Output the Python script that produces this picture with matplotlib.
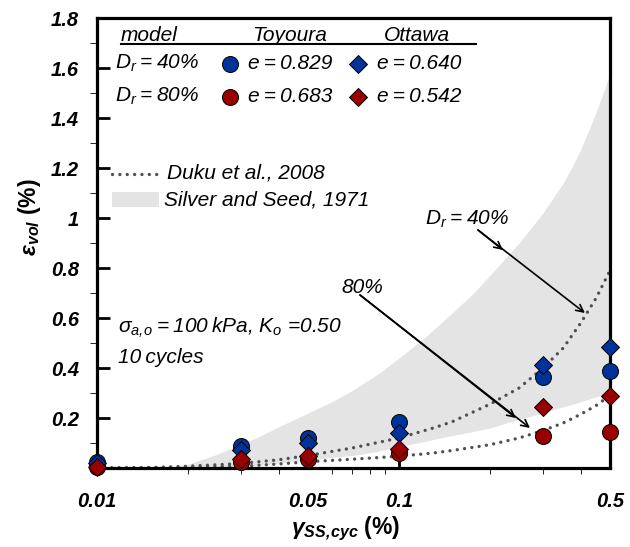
import matplotlib
matplotlib.use('Agg')
import matplotlib.pyplot as plt
from matplotlib.ticker import FixedLocator, FixedFormatter, NullFormatter
from matplotlib.patches import Rectangle

plt.rcParams['font.family'] = ['Liberation Sans', 'DejaVu Sans']
plt.rcParams['mathtext.fontset'] = 'custom'
plt.rcParams['mathtext.rm'] = 'Liberation Sans:italic'
plt.rcParams['mathtext.it'] = 'Liberation Sans:italic'
plt.rcParams['mathtext.bf'] = 'Liberation Sans:italic:bold'

# shear strain amplitude (%)
gamma = [0.01, 0.03, 0.05, 0.1, 0.3, 0.5]
# volumetric strain (%) from the model
toyoura_dr40 = [0.025, 0.088, 0.12, 0.184, 0.365, 0.39]
ottawa_dr40 = [0.02, 0.072, 0.10, 0.14, 0.412, 0.485]
toyoura_dr80 = [0.003, 0.025, 0.036, 0.06, 0.13, 0.145]
ottawa_dr80 = [0.003, 0.036, 0.048, 0.076, 0.245, 0.29]

# Duku et al., 2008 curves
duku_x = [0.01, 0.015, 0.02, 0.03, 0.04, 0.05, 0.07, 0.1, 0.13, 0.15, 0.2, 0.25, 0.3,
          0.35, 0.4, 0.45, 0.5]
duku_dr40 = [0.0, 0.002, 0.007, 0.018, 0.033, 0.05, 0.08, 0.12, 0.16, 0.185, 0.255, 0.32,
             0.40, 0.48, 0.58, 0.68, 0.79]
duku_dr80 = [0.0, 0.0, 0.002, 0.007, 0.016, 0.025, 0.035, 0.047, 0.06, 0.07, 0.093, 0.12,
             0.15, 0.18, 0.215, 0.25, 0.29]

# Silver and Seed, 1971 band
band_x = [0.015, 0.017, 0.02, 0.025, 0.03, 0.035, 0.04, 0.05, 0.06, 0.07, 0.085, 0.1,
          0.12, 0.15, 0.175, 0.2, 0.25, 0.3, 0.35, 0.375, 0.4, 0.425, 0.45, 0.475, 0.5]
band_hi = [0, 0, 0.015, 0.055, 0.095, 0.13, 0.165, 0.22, 0.265, 0.31, 0.375, 0.44,
           0.515, 0.62, 0.695, 0.77, 0.90, 1.02, 1.14, 1.205, 1.275, 1.35, 1.425, 1.50, 1.58]
band_lo = [0, 0, 0, 0, 0.005, 0.012, 0.02, 0.032, 0.042, 0.05, 0.066, 0.085,
           0.105, 0.13, 0.145, 0.16, 0.195, 0.22, 0.245, 0.255, 0.265, 0.275, 0.285, 0.293, 0.30]

xticks = [0.01, 0.05, 0.1, 0.5]
xticklabels = ['0.01', '0.05', '0.1', '0.5']
xminor = [0.02, 0.03, 0.04, 0.06, 0.07, 0.08, 0.09, 0.2, 0.3, 0.4]
yticks = [0.2, 0.4, 0.6, 0.8, 1.0, 1.2, 1.4, 1.6, 1.8]
yticklabels = ['0.2', '0.4', '0.6', '0.8', '1', '1.2', '1.4', '1.6', '1.8']
yminor = [0.1, 0.3, 0.5, 0.7, 0.9, 1.1, 1.3, 1.5, 1.7]

blue = '#003399'
red = '#990000'
grey = '#e4e4e4'
dotc = '#505050'
dots = (0, (0.01, 2.2))

fig = plt.figure(figsize=(6.3, 5.47), dpi=100)
ax = fig.add_axes([97 / 630, 79 / 547, 513 / 630, 450 / 547])

ax.fill_between(band_x, band_lo, band_hi, color=grey, lw=0, zorder=1)
ax.plot(duku_x, duku_dr40, color=dotc, lw=2.4, ls=dots, dash_capstyle='round', zorder=2)
ax.plot(duku_x, duku_dr80, color=dotc, lw=2.4, ls=dots, dash_capstyle='round', zorder=2)

mk = dict(ls='none', mec='black', mew=0.7, clip_on=False)
ax.plot(gamma, toyoura_dr40, 'o', ms=11.5, mfc=blue, zorder=5, **mk)
ax.plot(gamma, toyoura_dr80, 'o', ms=11.5, mfc=red, zorder=5, **mk)
ax.plot(gamma, ottawa_dr40, 'D', ms=9.2, mfc=blue, zorder=6, **mk)
ax.plot(gamma, ottawa_dr80, 'D', ms=9.2, mfc=red, zorder=6, **mk)

ax.set_xscale('log')
ax.set_xlim(0.01, 0.5)
ax.set_ylim(0, 1.8)
ax.xaxis.set_major_locator(FixedLocator(xticks))
ax.xaxis.set_major_formatter(FixedFormatter(xticklabels))
ax.xaxis.set_minor_locator(FixedLocator(xminor))
ax.xaxis.set_minor_formatter(NullFormatter())
ax.yaxis.set_major_locator(FixedLocator(yticks))
ax.yaxis.set_major_formatter(FixedFormatter(yticklabels))
ax.yaxis.set_minor_locator(FixedLocator(yminor))

for s in ax.spines.values():
    s.set_linewidth(2.3)
ax.tick_params(direction='in', width=2, top=False, right=False)
ax.tick_params(axis='x', which='major', length=5, pad=17)
ax.tick_params(axis='x', which='minor', length=4.5)
ax.tick_params(axis='y', which='major', length=9.5, pad=13)
ax.tick_params(axis='y', which='minor', length=5)
for lab in ax.get_xticklabels() + ax.get_yticklabels():
    lab.set_fontsize(14.5)
    lab.set_fontweight('bold')
    lab.set_fontstyle('italic')

ax.set_xlabel(r'$\mathbf{\gamma_{SS,\!cyc}}$ (%)', fontsize=16.5, fontweight='bold')
ax.set_ylabel(r'$\mathbf{\varepsilon_{vol}}$ (%)', fontsize=16.5, fontweight='bold')
ax.xaxis.set_label_coords(0.485, -0.104)
ax.yaxis.set_label_coords(-0.105, 0.558)

# legend table
tk = dict(transform=ax.transAxes, fontsize=15, fontstyle='italic', va='baseline')
ax.text(0.047, 0.949, 'model', **tk)
ax.text(0.376, 0.949, 'Toyoura', ha='center', **tk)
ax.text(0.624, 0.949, 'Ottawa', ha='center', **tk)
ax.plot([0.047, 0.739], [0.943, 0.943], transform=ax.transAxes, color='black', lw=1.5, clip_on=False)
ts = '\u2009=\u2009'
ax.text(0.035, 0.8867, '$D_r$' + ts + '40%', **tk)
ax.text(0.035, 0.8144, '$D_r$' + ts + '80%', **tk)
ax.text(0.294, 0.8867, 'e' + ts + '0.829', **tk)
ax.text(0.294, 0.8144, 'e' + ts + '0.683', **tk)
ax.text(0.546, 0.8867, 'e' + ts + '0.640', **tk)
ax.text(0.546, 0.8144, 'e' + ts + '0.542', **tk)
lk = dict(transform=ax.transAxes, ls='none', mec='black', mew=0.7, clip_on=False)
ax.plot([0.259], [0.8978], 'o', ms=11.5, mfc=blue, **lk)
ax.plot([0.259], [0.825], 'o', ms=11.5, mfc=red, **lk)
ax.plot([0.509], [0.8978], 'D', ms=9.2, mfc=blue, **lk)
ax.plot([0.509], [0.825], 'D', ms=9.2, mfc=red, **lk)

ax.plot([0.0286, 0.116], [0.653, 0.653], transform=ax.transAxes, color=dotc, lw=2.4,
        ls=dots, dash_capstyle='round')
ax.text(0.136, 0.644, 'Duku et al., 2008', **tk)
ax.add_patch(Rectangle((0.0286, 0.5807), 0.0924, 0.0333, transform=ax.transAxes,
                       facecolor=grey, lw=0))
ax.text(0.1306, 0.584, 'Silver and Seed, 1971', **tk)

ax.text(0.041, 0.30, r'$\sigma_{a,\!o}$' + ts + '100\u2009kPa, $K_o$ ' + '=0.50', **tk)
ax.text(0.041, 0.233, '10\u2009cycles', **tk)

# annotations
ax.text(0.122, 0.972, '$D_r$' + ts + '40%', fontsize=15, fontstyle='italic', va='baseline')
ax.text(0.0646, 0.701, '80%', fontsize=15, fontstyle='italic', va='baseline')
ap = dict(arrowstyle='->', lw=1.2, color='black', shrinkA=0, shrinkB=0, mutation_scale=13)
for start, tip in [((0.1827, 0.952), (0.221, 0.872)), ((0.1827, 0.952), (0.413, 0.62)),
                   ((0.0743, 0.692), (0.244, 0.2)), ((0.0743, 0.692), (0.2716, 0.16))]:
    ax.annotate('', xy=tip, xytext=start, arrowprops=ap, zorder=4)

fig.savefig('out.png', dpi=100)
